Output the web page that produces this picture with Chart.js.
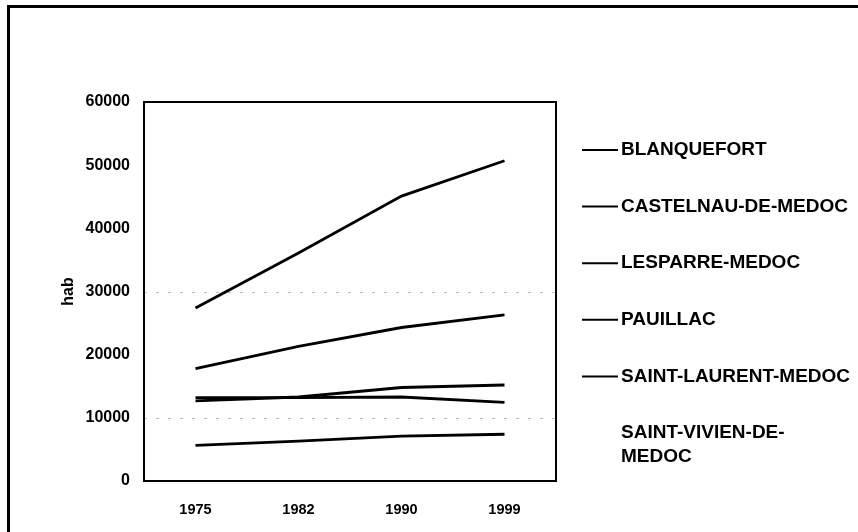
<!DOCTYPE html>
<html>
<head>
<meta charset="utf-8">
<script src="https://cdn.jsdelivr.net/npm/chart.js@4.4.1/dist/chart.umd.min.js"></script>
<style>
  html, body { margin: 0; padding: 0; background: #fff; }
  #wrap { width: 858px; height: 532px; position: relative; }
</style>
</head>
<body>
<div id="wrap"><canvas id="chart" width="858" height="532"></canvas></div>
<script>
// population by canton, census years
const years = ['1975', '1982', '1990', '1999'];
const blanquefort = [27400, 36100, 45100, 50700];
const castelnau = [17800, 21300, 24300, 26300];
const lesparre = [12700, 13300, 14800, 15200];
const pauillac = [13200, 13200, 13300, 12450];
const saintLaurent = [5650, 6300, 7100, 7400];
const saintVivien = [null, null, null, null];

const seriesNames = ['BLANQUEFORT', 'CASTELNAU-DE-MEDOC', 'LESPARRE-MEDOC', 'PAUILLAC',
  'SAINT-LAURENT-MEDOC', ['SAINT-VIVIEN-DE-', 'MEDOC']];
const yTicks = [0, 10000, 20000, 30000, 40000, 50000, 60000];
const dashedLevels = [10000, 30000];
const yTitle = 'hab';

const FONT = '"Liberation Sans", Arial, sans-serif';

function lineSet(name, values, color) {
  return {
    label: name,
    data: values,
    borderColor: color,
    borderWidth: 2.8,
    pointRadius: 0,
    tension: 0,
    fill: false
  };
}

// frame, plot box, axis title and the side legend
const decorations = {
  id: 'decorations',
  beforeDatasetsDraw(chart) {
    const ctx = chart.ctx;
    const y = chart.scales.y;
    const a = chart.chartArea;
    ctx.save();
    ctx.strokeStyle = '#bbb';
    ctx.lineWidth = 1;
    ctx.setLineDash([3, 9]);
    dashedLevels.forEach(v => {
      const py = Math.round(y.getPixelForValue(v)) + 0.5;
      ctx.beginPath();
      ctx.moveTo(a.left, py);
      ctx.lineTo(a.right, py);
      ctx.stroke();
    });
    ctx.restore();
  },
  afterDraw(chart) {
    const ctx = chart.ctx;
    const a = chart.chartArea;
    ctx.save();
    ctx.fillStyle = '#000';
    ctx.fillRect(7, 5, 3, 527);
    ctx.fillRect(7, 5, 851, 3);

    ctx.strokeStyle = '#000';
    ctx.lineWidth = 2;
    ctx.strokeRect(a.left, a.top, a.right - a.left, a.bottom - a.top);

    // rotated y title
    ctx.save();
    ctx.translate(69, (a.top + a.bottom) / 2);
    ctx.rotate(-Math.PI / 2);
    ctx.font = 'bold 16px ' + FONT;
    ctx.textAlign = 'center';
    ctx.textBaseline = 'middle';
    ctx.fillText(yTitle, 0, 0);
    ctx.restore();

    ctx.font = 'bold 19px ' + FONT;
    ctx.textBaseline = 'middle';
    chart.data.datasets.forEach((ds, i) => {
      const cy = 150 + i * 56.6;
      ctx.strokeStyle = ds.borderColor;
      ctx.lineWidth = 2;
      ctx.beginPath();
      ctx.moveTo(582, cy);
      ctx.lineTo(618, cy);
      ctx.stroke();
      ctx.fillStyle = '#000';
      const lines = Array.isArray(ds.label) ? ds.label : [ds.label];
      lines.forEach((t, j) => ctx.fillText(t, 621, cy + j * 24));
    });
    ctx.restore();
  }
};

new Chart(document.getElementById('chart'), {
  type: 'line',
  data: {
    labels: years,
    datasets: [
      lineSet(seriesNames[0], blanquefort, '#000'),
      lineSet(seriesNames[1], castelnau, '#000'),
      lineSet(seriesNames[2], lesparre, '#000'),
      lineSet(seriesNames[3], pauillac, '#000'),
      lineSet(seriesNames[4], saintLaurent, '#000'),
      lineSet(seriesNames[5], saintVivien, 'rgba(0,0,0,0)')
    ]
  },
  options: {
    responsive: false,
    animation: false,
    layout: { padding: { top: 102, right: 302, left: 0, bottom: 0 } },
    plugins: {
      legend: { display: false },
      tooltip: { enabled: false }
    },
    scales: {
      x: {
        offset: true,
        grid: { display: false },
        border: { display: false },
        ticks: {
          color: '#000',
          font: { family: FONT, size: 14.5, weight: 'bold' },
          padding: 12,
          maxRotation: 0
        },
        afterFit(scale) { scale.height = 51; }
      },
      y: {
        min: 0,
        max: 60000,
        afterBuildTicks(scale) { scale.ticks = yTicks.map(v => ({ value: v })); },
        grid: { display: false },
        border: { display: false },
        ticks: {
          color: '#000',
          font: { family: FONT, size: 16, weight: 'bold' },
          padding: 6,
          callback: v => String(v)
        },
        afterFit(scale) { scale.width = 144; }
      }
    }
  },
  plugins: [decorations]
});
</script>
</body>
</html>
